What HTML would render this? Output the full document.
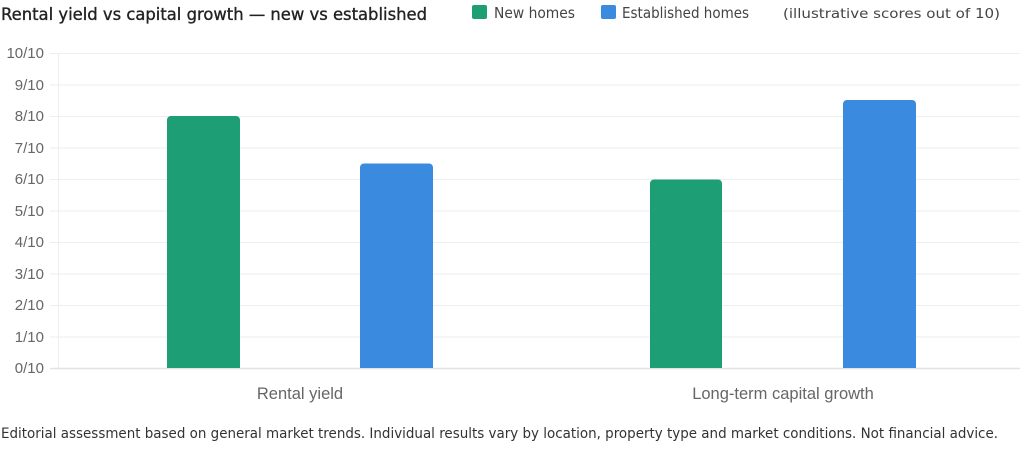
<!DOCTYPE html>
<html><head><meta charset="utf-8"><style>
html,body{margin:0;padding:0;background:#fff;width:1024px;height:462px;overflow:hidden}
</style></head><body>
<svg width="1024" height="462" xmlns="http://www.w3.org/2000/svg" font-family="'Liberation Sans',sans-serif">
<text x="1" y="20" font-size="17" fill="#222" stroke="#222" stroke-width="0.35" font-family="'DejaVu Sans',sans-serif" textLength="426" lengthAdjust="spacingAndGlyphs">Rental yield vs capital growth — new vs established</text>
<rect x="472" y="5" width="15" height="14" rx="2" fill="#1e9e74"/>
<text x="494" y="18" font-size="15" fill="#444" font-family="'DejaVu Sans',sans-serif" textLength="81" lengthAdjust="spacingAndGlyphs">New homes</text>
<rect x="601" y="5" width="15" height="14" rx="2" fill="#3a8ae0"/>
<text x="622" y="18" font-size="15" fill="#444" font-family="'DejaVu Sans',sans-serif" textLength="127" lengthAdjust="spacingAndGlyphs">Established homes</text>
<text x="783" y="18" font-size="13" fill="#444" font-family="'DejaVu Sans',sans-serif" textLength="217" lengthAdjust="spacingAndGlyphs">(illustrative scores out of 10)</text>
<g stroke="#eeeeee" stroke-width="1">
<line x1="50" y1="53.5" x2="1020" y2="53.5"/><line x1="50" y1="85" x2="1020" y2="85"/>
<line x1="50" y1="116.5" x2="1020" y2="116.5"/><line x1="50" y1="148" x2="1020" y2="148"/>
<line x1="50" y1="179.5" x2="1020" y2="179.5"/><line x1="50" y1="211" x2="1020" y2="211"/>
<line x1="50" y1="242.5" x2="1020" y2="242.5"/><line x1="50" y1="274" x2="1020" y2="274"/>
<line x1="50" y1="305.5" x2="1020" y2="305.5"/><line x1="50" y1="337" x2="1020" y2="337"/>
<line x1="58.5" y1="53" x2="58.5" y2="369"/>
</g>
<line x1="50" y1="368.5" x2="1020" y2="368.5" stroke="#e2e2e2" stroke-width="1.5"/>
<g font-size="15" fill="#666" text-anchor="end">
<text x="44" y="58">10/10</text><text x="44" y="90">9/10</text><text x="44" y="121">8/10</text>
<text x="44" y="153">7/10</text><text x="44" y="184">6/10</text><text x="44" y="216">5/10</text>
<text x="44" y="247">4/10</text><text x="44" y="279">3/10</text><text x="44" y="310">2/10</text>
<text x="44" y="342">1/10</text><text x="44" y="373">0/10</text>
</g>
<path d="M167,368V120a4,4 0 0 1 4,-4H236a4,4 0 0 1 4,4V368Z" fill="#1e9e74"/>
<path d="M360,368V167.5a4,4 0 0 1 4,-4H429a4,4 0 0 1 4,4V368Z" fill="#3a8ae0"/>
<path d="M650,368V183.5a4,4 0 0 1 4,-4H718a4,4 0 0 1 4,4V368Z" fill="#1e9e74"/>
<path d="M843,368V104a4,4 0 0 1 4,-4H912a4,4 0 0 1 4,4V368Z" fill="#3a8ae0"/>
<g font-size="16.5" fill="#666" text-anchor="middle">
<text x="300" y="399">Rental yield</text>
<text x="783" y="399">Long-term capital growth</text>
</g>
<text x="1" y="438" font-size="14" fill="#333" font-family="'DejaVu Sans',sans-serif" textLength="997" lengthAdjust="spacingAndGlyphs">Editorial assessment based on general market trends. Individual results vary by location, property type and market conditions. Not financial advice.</text>
</svg>
</body></html>
